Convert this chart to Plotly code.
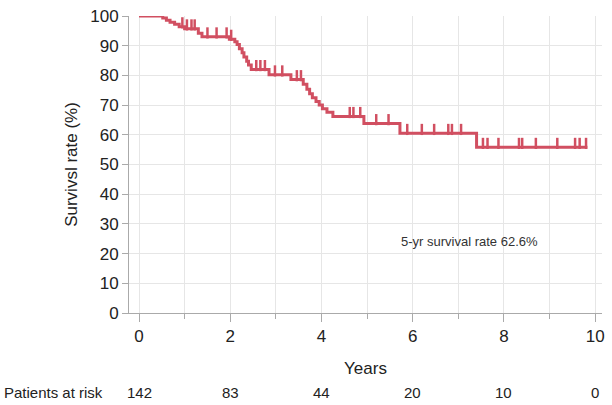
import numpy as np
import plotly.graph_objects as go

# Kaplan-Meier steps (time in years, survival % after the step)
step_times = [0.0, 0.52, 0.60, 0.68, 0.78, 0.88, 1.00, 1.30, 1.38, 1.98, 2.10, 2.15,
              2.20, 2.26, 2.30, 2.36, 2.40, 2.46, 2.85, 3.33, 3.60, 3.68, 3.74, 3.80,
              3.88, 3.95, 4.02, 4.12, 4.25, 4.93, 5.72, 7.40]
step_surv = [100.0, 99.3, 98.6, 97.9, 97.2, 96.4, 95.7, 94.2, 93.0, 92.2, 91.3, 90.4,
             89.0, 87.6, 86.2, 84.8, 83.5, 82.0, 80.2, 78.6, 77.0, 75.3, 73.8, 72.5,
             71.2, 70.0, 68.8, 67.6, 66.2, 63.8, 60.5, 55.8]
end_time = 9.83

# censored observations (years)
censor_times = [0.95, 1.05, 1.15, 1.22, 1.50, 1.70, 1.92, 2.02, 2.57, 2.66, 2.76,
                2.98, 3.14, 3.46, 3.55, 4.62, 4.70, 4.85, 5.20, 5.47, 5.88, 6.20,
                6.47, 6.78, 6.86, 7.06, 7.54, 7.64, 7.88, 8.33, 8.40, 8.70, 9.17,
                9.56, 9.66, 9.80]

risk_times = [0, 2, 4, 6, 8, 10]
risk_counts = [142, 83, 44, 20, 10, 0]

annotation_text = "5-yr survival rate 62.6%"

color = "#d14f61"
font = "Liberation Sans, Arial, Helvetica, sans-serif"

xs = list(step_times) + [end_time]
ys = list(step_surv) + [step_surv[-1]]

idx = np.searchsorted(np.array(step_times), np.array(censor_times), side="right") - 1
censor_surv = [step_surv[i] for i in idx]

fig = go.Figure()
fig.add_trace(go.Scatter(x=xs, y=ys, mode="lines", line=dict(color=color, width=3, shape="hv"),
                         hoverinfo="skip", showlegend=False))
fig.add_trace(go.Scatter(x=censor_times, y=[s + 1.3 for s in censor_surv], mode="markers",
                         marker=dict(symbol="line-ns", size=8, line=dict(color=color, width=2.5)),
                         hoverinfo="skip", showlegend=False))

fig.add_annotation(x=7.25, y=24, xref="x", yref="y", text=annotation_text, showarrow=False,
                   font=dict(size=13, color="#333", family=font))

fig.add_annotation(x=0, y=-0.267, xref="paper", yref="paper", xanchor="left", yanchor="middle",
                   text="Patients at risk", showarrow=False, xshift=-127,
                   font=dict(size=15, color="#222", family=font))
for t, n in zip(risk_times, risk_counts):
    fig.add_annotation(x=t, y=-0.267, xref="x", yref="paper", yanchor="middle", text=str(n),
                       showarrow=False, font=dict(size=15, color="#222", family=font))

fig.update_layout(
    width=612, height=405,
    margin=dict(l=129, r=7, t=13, b=92),
    plot_bgcolor="white", paper_bgcolor="white",
    font=dict(family=font, size=17, color="#222"),
    xaxis=dict(range=[-0.22, 10.15], tickmode="array", tickvals=risk_times,
               ticks="outside", ticklen=8, tickcolor="#aaa",
               showline=True, linecolor="#aaa", linewidth=1,
               showgrid=True, gridcolor="#e6e6e6", zeroline=False,
               minor=dict(dtick=1, tick0=0, ticks="outside", ticklen=5, tickcolor="#aaa",
                          showgrid=True, gridcolor="#e6e6e6"),
               title=dict(text="Years", font=dict(size=17), standoff=16),
               tickfont=dict(size=17)),
    yaxis=dict(range=[0, 100], dtick=10, ticks="outside", ticklen=6, tickcolor="#aaa",
               showline=True, linecolor="#aaa", linewidth=1,
               showgrid=True, gridcolor="#e6e6e6", zeroline=False,
               title=dict(text="Survivsl rate (%)", font=dict(size=17), standoff=8),
               tickfont=dict(size=17)),
)

fig.write_html("out.html", config={"displayModeBar": False},
               post_script="document.body.style.margin='0';document.body.style.overflow='hidden';")
